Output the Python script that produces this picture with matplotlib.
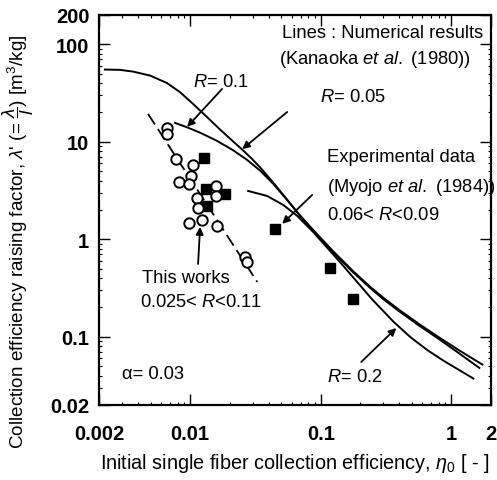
import matplotlib
matplotlib.use("Agg")
import matplotlib.pyplot as plt
from matplotlib.ticker import FixedLocator, LogLocator, NullFormatter

plt.rcParams["font.family"] = ["Liberation Sans", "DejaVu Sans"]
plt.rcParams["mathtext.fontset"] = "custom"
plt.rcParams["mathtext.rm"] = "Liberation Sans"
plt.rcParams["mathtext.it"] = "Liberation Sans:italic"

# numerical results (Kanaoka et al. 1980)
r005_x = [0.00222, 0.00290, 0.00365, 0.00492, 0.00661, 0.00836, 0.01052, 0.0134,
          0.01694, 0.02133, 0.02541, 0.02951, 0.03436, 0.04315, 0.05534, 0.0695,
          0.0933, 0.1259, 0.1778, 0.2399, 0.302, 0.398, 0.5623, 0.7943, 1.148, 1.73]
r005_y = [55.0, 54.6, 52.4, 47.7, 40.1, 32.2, 24.4, 18.0,
          13.32, 10.06, 8.15, 6.73, 5.44, 3.82, 2.534, 1.744,
          1.135, 0.741, 0.468, 0.324, 0.2506, 0.189, 0.1361, 0.0998, 0.0726, 0.0519]

r01_x = [0.00765, 0.00941, 0.0119, 0.0160, 0.02133, 0.02716, 0.03436, 0.04315,
         0.05534, 0.0695, 0.0933, 0.1259, 0.1778, 0.2399, 0.302, 0.398, 0.5623,
         0.7943, 1.148, 1.64]
r01_y = [15.6, 14.1, 12.39, 10.23, 8.17, 6.54, 5.05, 3.71,
         2.525, 1.734, 1.109, 0.723, 0.455, 0.315, 0.2427, 0.1828, 0.1312,
         0.0959, 0.0676, 0.0479]

r02_x = [0.02777, 0.03884, 0.05152, 0.06598, 0.0875, 0.141, 0.2477, 0.3597,
         0.4853, 0.6546, 0.869, 1.476]
r02_y = [3.13, 2.78, 2.25, 1.738, 1.186, 0.579, 0.2415, 0.1432,
         0.0993, 0.0731, 0.0570, 0.0373]

# this work
open_x = [0.00665, 0.00665, 0.00779, 0.01052, 0.01015, 0.00821, 0.00979, 0.01578,
          0.01578, 0.01128, 0.01148, 0.00979, 0.01233, 0.01607, 0.02634, 0.0273]
open_y = [13.9, 12.0, 6.67, 5.79, 4.47, 3.87, 3.70, 3.52,
          2.78, 2.65, 2.10, 1.47, 1.58, 1.37, 0.659, 0.586]
filled_x = [0.01276, 0.01323, 0.01849, 0.01346]
filled_y = [6.83, 3.28, 2.92, 2.20]
guide_x = [0.00475, 0.0326]
guide_y = [19.3, 0.365]

# experimental data (Myojo et al. 1984)
myojo_x = [0.0448, 0.118, 0.177]
myojo_y = [1.28, 0.508, 0.244]

xticks = [0.002, 0.01, 0.1, 1, 2]
xticklabels = ["0.002", "0.01", "0.1", "1", "2"]
yticks = [0.02, 0.1, 1, 10, 100, 200]
yticklabels = ["0.02", "0.1", "1", "10", "100", "200"]

fig = plt.figure(figsize=(4.97, 4.81), dpi=100)
ax = fig.add_axes([0.1992, 0.156, 0.788, 0.811])

for xs, ys in [(r005_x, r005_y), (r01_x, r01_y), (r02_x, r02_y)]:
    ax.plot(xs, ys, color="black", lw=1.4, zorder=2, solid_joinstyle="round")

ax.plot(guide_x, guide_y, color="black", lw=1.3, dashes=(7, 3), zorder=2)
ax.plot(open_x, open_y, "o", ms=7.5, mfc="white", mec="black", mew=1.4, zorder=4)
ax.plot(filled_x, filled_y, "s", ms=6.5, color="black", zorder=3)
ax.plot(myojo_x, myojo_y, "s", ms=6.5, color="black", zorder=3)

ax.set_xscale("log")
ax.set_yscale("log")
ax.set_xlim(0.002, 2)
ax.set_ylim(0.02, 200)

ax.xaxis.set_major_locator(FixedLocator(xticks))
ax.set_xticklabels(xticklabels)
ax.yaxis.set_major_locator(FixedLocator(yticks))
ax.set_yticklabels(yticklabels)
ax.xaxis.set_minor_locator(LogLocator(base=10, subs=range(2, 10), numticks=20))
ax.yaxis.set_minor_locator(LogLocator(base=10, subs=range(2, 10), numticks=20))
ax.xaxis.set_minor_formatter(NullFormatter())
ax.yaxis.set_minor_formatter(NullFormatter())
ax.tick_params(which="both", direction="in", top=True, right=True, width=1.0)
ax.tick_params(which="major", length=8)
ax.tick_params(which="minor", length=2.5, width=0.8)
ax.tick_params(axis="x", which="major", pad=13.5)
ax.tick_params(axis="y", which="major", pad=7)
for lbl in ax.get_xticklabels() + ax.get_yticklabels():
    lbl.set_fontsize(14.5)
    lbl.set_fontweight("bold")
for sp in ax.spines.values():
    sp.set_linewidth(1.6)

ax.set_xlabel(r"Initial single fiber collection efficiency, $\eta_0$ [ - ]", fontsize=14.3, labelpad=6)
ax.set_ylabel(r"Collection efficiency raising factor, $\lambda$' (= $\dfrac{\lambda}{l}$) [m$^3$/kg]",
              fontsize=13.6)
ax.yaxis.set_label_coords(-0.160, 0.42)

tk = dict(fontsize=13.2, transform=ax.transAxes, va="center")
ax.text(0.723, 0.954, "Lines : Numerical results", ha="center", **tk)
ax.text(0.705, 0.887, r"(Kanaoka $et\ al.$ (1980))", ha="center", **tk)
ax.text(0.240, 0.830, r"$R$= 0.1", ha="left", **tk)
ax.text(0.5645, 0.792, r"$R$= 0.05", ha="left", **tk)
ax.text(0.582, 0.638, "Experimental data", ha="left", **tk)
ax.text(0.582, 0.559, r"(Myojo $et\ al.$ (1984))", ha="left", **tk)
ax.text(0.582, 0.487, r"0.06< $R$<0.09", ha="left", **tk)
ax.text(0.110, 0.328, "This works", ha="left", **tk)
ax.text(0.105, 0.264, r"0.025< $R$<0.11", ha="left", **tk)
ax.text(0.0587, 0.0795, "α= 0.03", ha="left", **tk)
ax.text(0.582, 0.0718, r"$R$= 0.2", ha="left", **tk)

arrow = dict(arrowstyle="-|>", color="black", lw=1.3, mutation_scale=11, shrinkA=0, shrinkB=0)
ax.annotate("", xy=(0.00946, 14.2), xytext=(0.01754, 34.8), arrowprops=arrow)
ax.annotate("", xy=(0.0250, 8.4), xytext=(0.0553, 20.2), arrowprops=arrow)
ax.annotate("", xy=(0.0506, 1.44), xytext=(0.0859, 2.85), arrowprops=arrow)
ax.annotate("", xy=(0.0119, 1.34), xytext=(0.01148, 0.558), arrowprops=arrow)
ax.annotate("", xy=(0.379, 0.123), xytext=(0.204, 0.0552), arrowprops=arrow)

fig.savefig("out.png", dpi=100)
